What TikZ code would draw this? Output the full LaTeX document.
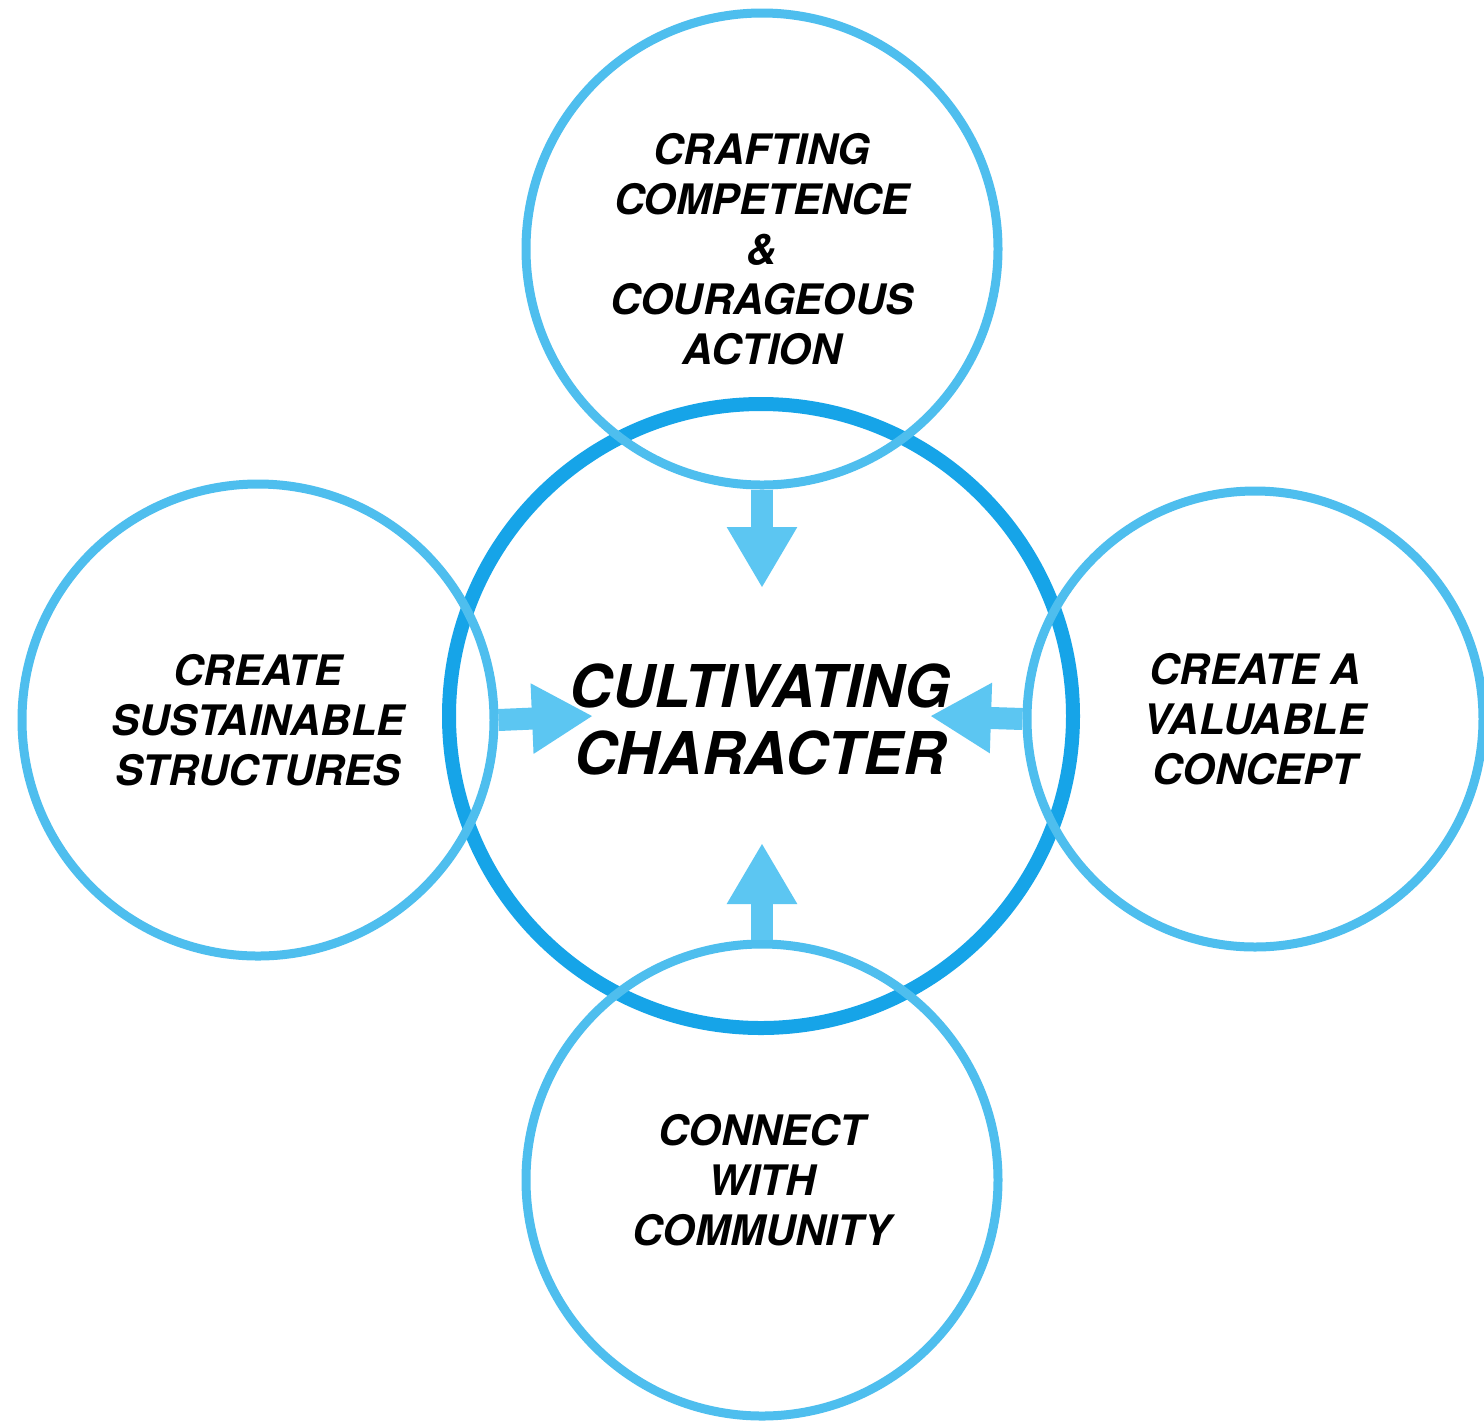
\documentclass[tikz,border=0pt]{standalone}
\usepackage{fontspec}
\setmainfont{TeX Gyre Heros}
\usetikzlibrary{arrows.meta}
\definecolor{ringlight}{RGB}{78,190,238}
\definecolor{ringdark}{RGB}{22,164,232}
\definecolor{arrowblue}{RGB}{92,198,242}
\tikzset{
  smallring/.style={circle, draw=ringlight, line width=4.5pt, minimum size=472*0.5pt,
    inner sep=0pt, align=center, text=black,
    font=\fontsize{21}{25}\selectfont\bfseries\itshape},
  bigring/.style={circle, draw=ringdark, line width=7pt, minimum size=624*0.5pt,
    inner sep=0pt, align=center, text=black},
  bigtext/.style={align=center, text=black,
    font=\fontsize{29.5}{33.5}\selectfont\bfseries\itshape},
  blockarrow/.style={draw=arrowblue, line width=11pt,
    -{Triangle[length=30.5pt, width=33pt, fill=arrowblue]}}
}
\begin{document}
\begin{tikzpicture}[x=0.5pt, y=-0.5pt]
\useasboundingbox (0,0) rectangle (1484,1421);
\fill[white] (0,0) rectangle (1484,1421);
% central ring
\node[bigring] (center) at (761,716) {};
% outer rings
\node[smallring] (top) at (762,249) {CRAFTING\\COMPETENCE\\\&\\COURAGEOUS\\ACTION};
\node[smallring] (left) at (258,720) {CREATE\\SUSTAINABLE\\STRUCTURES};
\node[smallring, minimum size=456*0.5pt] (right) at (1255,719) {CREATE A\\VALUABLE\\CONCEPT};
\node[smallring] (bottom) at (762,1180) {CONNECT\\WITH\\COMMUNITY};
% arrow tips
\coordinate (tipT) at (762,588);
\coordinate (tipL) at (593,716);
\coordinate (tipR) at (930,716);
\coordinate (tipB) at (762,843);
\draw[blockarrow] (top.south) -- (tipT);
\draw[blockarrow] (left.east) -- (tipL);
\draw[blockarrow] (right.west) -- (tipR);
\draw[blockarrow] (bottom.north) -- (tipB);
% central text
\node[bigtext] (ctext) at (760,719) {CULTIVATING\\CHARACTER};
\end{tikzpicture}
\end{document}
